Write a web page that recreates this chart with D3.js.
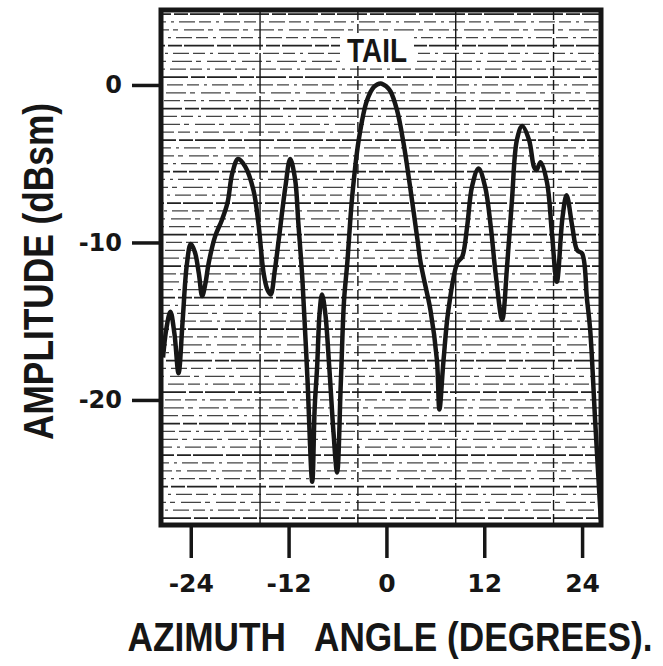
<!DOCTYPE html>
<html>
<head>
<meta charset="utf-8">
<script src="https://cdn.jsdelivr.net/npm/d3@7"></script>
<style>
  body { margin: 0; background: #fff; }
  svg { display: block; }
</style>
</head>
<body>
<svg width="663" height="666"></svg>
<script>
// azimuth angle (deg) and amplitude (dBsm)
var angles = [-27.4, -27.0, -26.5, -26.0, -25.5, -25.0, -24.5, -24.0, -23.5, -23.0,
  -22.6, -22.2, -21.8, -21.0, -20.2, -19.5, -18.9, -18.2, -17.3, -16.3,
  -15.7, -15.05, -14.6, -14.2, -13.7, -13.2, -12.4, -11.8, -11.2, -10.8,
  -10.3, -9.7, -9.1, -8.8, -8.5, -8.2, -7.9, -7.5, -7.0, -6.5,
  -6.05, -5.6, -5.2, -4.8, -4.2, -3.4, -2.4, -1.5, -0.7, 0.0,
  0.5, 1.3, 2.1, 2.9, 3.8, 4.2, 4.8, 5.4, 6.2, 6.5,
  7.0, 7.6, 8.7, 9.3, 9.9, 10.5, 11.3, 12.1, 12.8, 13.4,
  14.2, 14.8, 15.4, 16.0, 16.65, 17.5, 18.1, 18.4, 18.9, 19.7,
  20.3, 20.9, 21.6, 22.1, 22.8, 23.4, 24.0, 24.6, 25.0, 25.6, 26.3]
var amplitude = [-17.3, -15.5, -14.4, -15.8, -18.3, -15.0, -11.5, -10.1, -10.6, -12.0,
  -13.4, -12.6, -11.3, -9.6, -8.6, -7.5, -5.6, -4.7, -5.2, -6.7,
  -8.8, -12.0, -13.0, -13.3, -11.8, -9.8, -6.5, -4.7, -6.0, -8.8,
  -12.4, -18.5, -25.2, -20.5, -17.9, -14.5, -13.3, -14.5, -18.0, -22.0,
  -24.6, -19.0, -13.7, -11.3, -7.1, -3.5, -1.0, -0.1, 0.1, -0.1,
  -0.4, -1.6, -3.7, -6.45, -9.8, -11.3, -12.8, -14.3, -17.5, -20.6,
  -17.5, -14.3, -11.3, -10.9, -9.0, -6.45, -5.3, -6.45, -9.0, -12.0,
  -14.9, -11.5, -7.3, -3.5, -2.6, -3.5, -5.2, -5.4, -4.9, -6.2,
  -9.4, -12.5, -8.4, -7.0, -9.0, -10.5, -10.7, -13.6, -15.6, -21.3, -27.6]

var xTicks = [-24, -12, 0, 12, 24]
var yTicks = [0, -10, -20]
var xTitle = 'AZIMUTH   ANGLE (DEGREES).'
var yTitle = 'AMPLITUDE (dBsm)'
var label = 'TAIL'

var plotL = 161, plotR = 601, plotT = 10, plotB = 525
var ink = '#161616'
var font = '"Liberation Sans", Arial, sans-serif'
var tickFont = '"DejaVu Sans", sans-serif'

var x = d3.scaleLinear().domain([-27.65, 26.32]).range([plotL, plotR])
var y = d3.scaleLinear().domain([-27.94, 4.76]).range([plotB, plotT])

var svg = d3.select('svg')

// chart paper grid
var grid = svg.append('g')
var hLines = d3.range(-55, 10).map(d => d / 2)
grid.selectAll('.h')
  .data(hLines)
  .enter()
  .append('line')
    .attr('x1', plotL).attr('x2', plotR)
    .attr('y1', d => y(d)).attr('y2', d => y(d))
    .attr('stroke', ink)
    .attr('stroke-width', (d, i) => i % 4 == 0 ? 1.7 : 1.2)
    .attr('stroke-dasharray', (d, i) => i % 4 == 0 ? '30,3,14,2' : (i % 2 ? '12,5,3,5,16,4' : '5,6,20,4'))
    .attr('stroke-dashoffset', (d, i) => (i * 13) % 29)
    .attr('opacity', (d, i) => i % 4 == 0 ? 0.95 : 0.8)

grid.selectAll('.v')
  .data([-15.5, -3.5, 8.5, 20.5])
  .enter()
  .append('line')
    .attr('x1', d => x(d)).attr('x2', d => x(d))
    .attr('y1', plotT).attr('y2', plotB)
    .attr('stroke', ink)
    .attr('stroke-width', 1.4)
    .attr('stroke-dasharray', (d, i) => i % 2 ? '10,4' : '40,3')

// narrow hand lettering: squeeze the text sideways so its box stays true
function lettering(g, str, size, scaleX, width) {
  return g.append('text')
    .text(str)
    .attr('transform', 'scale(' + scaleX + ',1)')
    .attr('text-anchor', 'middle')
    .attr('textLength', width / scaleX)
    .attr('lengthAdjust', 'spacingAndGlyphs')
    .style('white-space', 'pre')
    .style('font-family', font).style('font-size', size + 'px').style('font-weight', 'bold')
    .attr('fill', ink)
}

// TAIL label on a white patch
svg.append('rect')
  .attr('x', 340).attr('y', 33).attr('width', 74).attr('height', 33)
  .attr('fill', '#fff')
lettering(svg.append('g').attr('transform', 'translate(377,62)'), label, 33, 0.82, 60)

// trace
var points = angles.map((a, i) => [a, amplitude[i]])
var line = d3.line()
  .x(d => x(d[0]))
  .y(d => y(d[1]))
  .curve(d3.curveCatmullRom.alpha(0.5))

svg.append('clipPath').attr('id', 'clip')
  .append('rect').attr('x', plotL).attr('y', plotT).attr('width', plotR - plotL).attr('height', plotB - plotT)

svg.append('path')
  .datum(points)
  .attr('clip-path', 'url(#clip)')
  .attr('d', line)
  .attr('fill', 'none')
  .attr('stroke', ink)
  .attr('stroke-width', 4.5)
  .attr('stroke-linejoin', 'round')

// frame
svg.append('rect')
  .attr('x', plotL).attr('y', plotT)
  .attr('width', plotR - plotL).attr('height', plotB - plotT)
  .attr('fill', 'none')
  .attr('stroke', ink)
  .attr('stroke-width', 5)

// axes
var yAxis = svg.append('g')
  .attr('transform', 'translate(' + plotL + ',0)')
  .call(d3.axisLeft(y).tickValues(yTicks).tickSize(29).tickPadding(10).tickFormat(d => d == 0 ? '0' : '-' + Math.abs(d)))
var xAxis = svg.append('g')
  .attr('transform', 'translate(0,' + plotB + ')')
  .call(d3.axisBottom(x).tickValues(xTicks).tickSize(33).tickPadding(16).tickFormat(d => d < 0 ? '-' + Math.abs(d) : d))

svg.selectAll('.domain').remove()
svg.selectAll('.tick line').attr('stroke', ink).attr('stroke-width', 3.5)
svg.selectAll('.tick text')
  .attr('fill', ink)
  .style('font-family', tickFont).style('font-weight', 'bold')
yAxis.selectAll('.tick text').style('font-size', '24px')
xAxis.selectAll('.tick text').style('font-size', '25px')

// titles
lettering(svg.append('g').attr('transform', 'translate(390,651)'), xTitle, 41, 0.856, 525)
lettering(svg.append('g').attr('transform', 'translate(53,271.5) rotate(-90)'), yTitle, 42, 0.84, 337)
</script>
</body>
</html>
